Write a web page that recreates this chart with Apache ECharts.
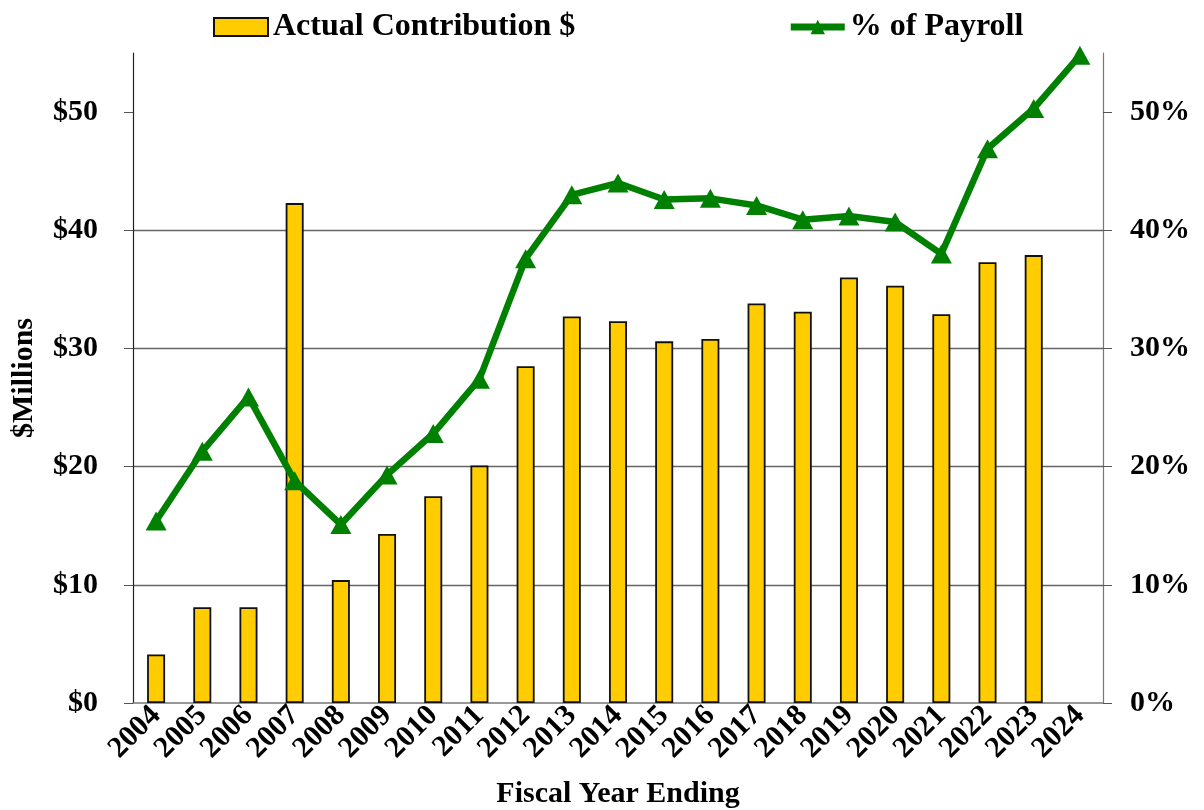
<!DOCTYPE html>
<html>
<head>
<meta charset="utf-8">
<script src="https://cdn.jsdelivr.net/npm/echarts@6/dist/echarts.min.js"></script>
<style>
  html, body { margin: 0; padding: 0; background: #fff; }
  #chart { width: 1204px; height: 810px; }
</style>
</head>
<body>
<div id="chart"></div>
<script>
const years = ['2004', '2005', '2006', '2007', '2008', '2009', '2010', '2011', '2012', '2013', '2014',
  '2015', '2016', '2017', '2018', '2019', '2020', '2021', '2022', '2023', '2024'];
// $ millions, no bar for 2024
const contribution = [4.1, 8.1, 8.1, 42.3, 10.4, 14.3, 17.5, 20.1, 28.5, 32.7, 32.3,
  30.6, 30.8, 33.8, 33.1, 36.0, 35.3, 32.9, 37.3, 37.9, null];
// percent of payroll
const pctPayroll = [15.4, 21.3, 25.9, 18.8, 15.1, 19.3, 22.8, 27.4, 37.6, 43.0, 44.0,
  42.6, 42.7, 42.1, 40.9, 41.2, 40.7, 38.0, 46.9, 50.3, 54.8];
const tickValues = [0, 10, 20, 30, 40, 50];

const font = '"Liberation Serif", "Times New Roman", serif';
const chart = echarts.init(document.getElementById('chart'));

const yBase = {
  type: 'value',
  min: 0,
  max: 55,
  interval: 10,
  axisTick: { show: true, inside: false, length: 9, customValues: tickValues, lineStyle: { color: '#555' } },
  axisLabel: { customValues: tickValues, fontFamily: font, fontWeight: 'bold', fontSize: 30, color: '#000' }
};

chart.setOption({
  animation: false,
  textStyle: { fontFamily: font },
  legend: {
    left: 208,
    top: 6,
    itemWidth: 54,
    itemHeight: 18,
    itemGap: 212,
    textStyle: { fontFamily: font, fontWeight: 'bold', fontSize: 32, color: '#000' },
    data: [
      { name: 'Actual Contribution $', icon: 'rect' },
      { name: '% of Payroll', lineStyle: { width: 7 } }
    ]
  },
  grid: { left: 133, right: 101, top: 53, bottom: 107, outerBoundsMode: 'none', containLabel: false },
  xAxis: {
    type: 'category',
    data: years,
    name: 'Fiscal Year Ending',
    nameLocation: 'middle',
    nameGap: 76,
    nameTextStyle: { fontFamily: font, fontWeight: 'bold', fontSize: 30, color: '#000' },
    axisLine: { lineStyle: { color: '#777', width: 1.5 } },
    axisTick: { show: false },
    axisLabel: { rotate: 45, margin: 8, fontFamily: font, fontWeight: 'bold', fontSize: 30, color: '#000', interval: 0 }
  },
  yAxis: [
    Object.assign({}, yBase, {
      name: '$Millions',
      nameLocation: 'middle',
      nameRotate: 90,
      nameGap: 94,
      nameTextStyle: { fontFamily: font, fontWeight: 'bold', fontSize: 30, color: '#000' },
      axisLine: { show: true, lineStyle: { color: '#222', width: 1.2 } },
      axisLabel: Object.assign({}, yBase.axisLabel, { margin: 35, formatter: '${value}' }),
      splitLine: { show: true, showMinLine: false, showMaxLine: false, lineStyle: { color: '#666', width: 1.3 } }
    }),
    Object.assign({}, yBase, {
      position: 'right',
      axisLine: { show: true, lineStyle: { color: '#777', width: 1.2 } },
      axisLabel: Object.assign({}, yBase.axisLabel, { margin: 27, formatter: '{value}%' }),
      splitLine: { show: false }
    })
  ],
  series: [
    {
      name: 'Actual Contribution $',
      type: 'bar',
      data: contribution,
      barWidth: 18,
      itemStyle: { color: '#FFCC00', borderColor: '#111', borderWidth: 1.8 }
    },
    {
      name: '% of Payroll',
      type: 'line',
      yAxisIndex: 1,
      data: pctPayroll,
      symbol: 'triangle',
      symbolSize: [21, 19],
      lineStyle: { color: '#008000', width: 6.5 },
      itemStyle: { color: '#008000' }
    }
  ]
});
</script>
</body>
</html>
